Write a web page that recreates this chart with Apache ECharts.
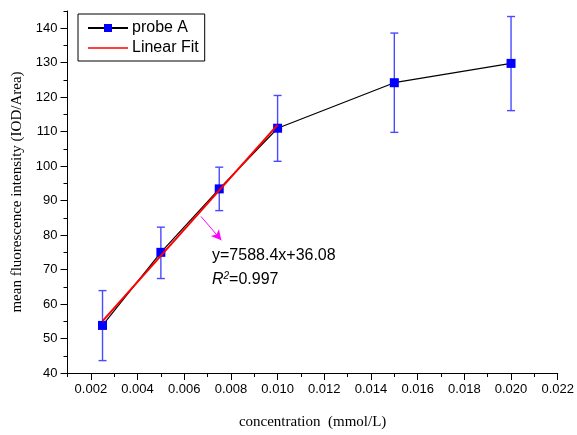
<!DOCTYPE html>
<html>
<head>
<meta charset="utf-8">
<script src="https://cdn.jsdelivr.net/npm/echarts@6/dist/echarts.min.js"></script>
<style>
  html, body { margin: 0; padding: 0; background: #fff; }
  #chart { width: 577px; height: 435px; }
</style>
</head>
<body>
<div id="chart"></div>
<script>
// Measured probe response
const concentration = [0.0025, 0.005, 0.0075, 0.010, 0.015, 0.020];
const intensity     = [53.8, 75.0, 93.4, 111.0, 124.2, 129.8];
const errLow        = [43.6, 67.4, 87.1, 101.4, 109.8, 116.1];
const errHigh       = [63.9, 82.3, 99.7, 120.5, 138.6, 143.4];

// Linear fit over the linear range: y = 7588.4x + 36.08
const fitX = [0.0025, 0.010];
const fitY = [55.05, 111.96];

// Major tick positions / labels
const xTickLabels = ['0.002','0.004','0.006','0.008','0.010','0.012','0.014','0.016','0.018','0.020','0.022'];
const yTickLabels = [40, 50, 60, 70, 80, 90, 100, 110, 120, 130, 140];

const fitEquation = 'y=7588.4x+36.08';
const fitR2 = '0.997';

const X_MIN = 0.001, X_MAX = 0.022;
const Y_MIN = 40, Y_MAX = 145;

const chart = echarts.init(document.getElementById('chart'), null, { renderer: 'canvas' });

const sans = 'Arial, "Liberation Sans", sans-serif';
const serif = '"Times New Roman", "Liberation Serif", serif';

// thin horizontal bar centred in its box (legend icon for the fit line)
const fitIcon = 'path://M0,0M0,4.3H40V5.7H0Z M40,10';

const xMajor = xTickLabels.map(Number);

const option = {
  animation: false,
  backgroundColor: '#fff',
  grid: { left: 67.5, right: 18.5, top: 11, bottom: 59.5, containLabel: false },
  legend: {
    orient: 'vertical',
    left: 78,
    top: 14,
    padding: [5, 6, 4, 9],
    itemGap: 2,
    itemWidth: 40,
    itemHeight: 10,
    symbolKeepAspect: false,
    borderColor: '#000',
    borderWidth: 1,
    borderRadius: 0,
    backgroundColor: '#fff',
    textStyle: { fontFamily: sans, fontSize: 16, color: '#000', lineHeight: 18, padding: [0, 0, 0, -1] },
    data: [
      { name: 'probe A' },
      { name: 'Linear Fit', icon: fitIcon }
    ]
  },
  xAxis: [
    {
      type: 'value',
      position: 'bottom',
      min: X_MIN,
      max: X_MAX,
      name: 'concentration  (mmol/L)',
      nameLocation: 'middle',
      nameGap: 42,
      nameTextStyle: { fontFamily: serif, fontSize: 15, color: '#000' },
      axisLine: { show: true, lineStyle: { color: '#000', width: 1 } },
      axisTick: { show: true, inside: false, length: 7, customValues: xMajor, lineStyle: { color: '#000' } },
      splitLine: { show: false },
      axisLabel: {
        margin: 10,
        fontFamily: sans,
        fontSize: 13,
        color: '#000',
        customValues: xMajor,
        formatter: function (v) { return Number(v).toFixed(3); }
      }
    },
    {
      // minor ticks every 0.001
      type: 'value',
      position: 'bottom',
      min: X_MIN,
      max: X_MAX,
      interval: 0.001,
      axisLine: { show: false },
      axisTick: { show: true, inside: false, length: 4, lineStyle: { color: '#000' } },
      axisLabel: { show: false },
      splitLine: { show: false }
    }
  ],
  yAxis: [
    {
      type: 'value',
      position: 'left',
      min: Y_MIN,
      max: Y_MAX,
      name: 'mean fluorescence intensity (IOD/Area)',
      nameLocation: 'middle',
      nameGap: 34,
      nameTextStyle: { fontFamily: serif, fontSize: 15, color: '#000' },
      axisLine: { show: true, lineStyle: { color: '#000', width: 1 } },
      axisTick: { show: true, inside: false, length: 7, customValues: yTickLabels, lineStyle: { color: '#000' } },
      splitLine: { show: false },
      axisLabel: {
        margin: 10,
        fontFamily: sans,
        fontSize: 13,
        color: '#000',
        customValues: yTickLabels
      }
    },
    {
      // minor ticks every 5
      type: 'value',
      position: 'left',
      min: Y_MIN,
      max: Y_MAX,
      interval: 5,
      axisLine: { show: false },
      axisTick: { show: true, inside: false, length: 4, lineStyle: { color: '#000' } },
      axisLabel: { show: false },
      splitLine: { show: false }
    }
  ],
  series: [
    {
      name: 'errorbars',
      type: 'custom',
      silent: true,
      z: 1,
      data: concentration.map((x, i) => [x, errLow[i], errHigh[i]]),
      encode: { x: 0, y: [1, 2] },
      renderItem: function (params, api) {
        const lo = api.coord([api.value(0), api.value(1)]);
        const hi = api.coord([api.value(0), api.value(2)]);
        const half = 4;
        const style = { stroke: '#4a4aff', lineWidth: 1.4 };
        return {
          type: 'group',
          children: [
            { type: 'line', shape: { x1: hi[0], y1: hi[1], x2: lo[0], y2: lo[1] }, style: style },
            { type: 'line', shape: { x1: hi[0] - half, y1: hi[1], x2: hi[0] + half, y2: hi[1] }, style: style },
            { type: 'line', shape: { x1: lo[0] - half, y1: lo[1], x2: lo[0] + half, y2: lo[1] }, style: style }
          ]
        };
      }
    },
    {
      name: 'probe A',
      type: 'line',
      z: 3,
      data: concentration.map((x, i) => [x, intensity[i]]),
      symbol: 'rect',
      symbolSize: 9,
      showSymbol: true,
      lineStyle: { color: '#000', width: 1.2 },
      itemStyle: { color: '#0000ff', borderWidth: 0 },
      emphasis: { disabled: true }
    },
    {
      name: 'Linear Fit',
      type: 'line',
      z: 4,
      data: fitX.map((x, i) => [x, fitY[i]]),
      symbol: 'none',
      lineStyle: { color: '#ff0000', width: 2 },
      itemStyle: { color: '#ff0000' },
      emphasis: { disabled: true },
      markLine: {
        silent: true,
        symbol: ['none', 'arrow'],
        symbolSize: [8, 10],
        label: { show: false },
        lineStyle: { color: '#ff00ff', width: 1, type: 'solid' },
        data: [[{ coord: [0.00672, 85.4] }, { coord: [0.00759, 78.5] }]]
      }
    }
  ],
  graphic: [
    {
      type: 'text',
      left: 212,
      top: 248,
      style: {
        text: fitEquation,
        font: '16px ' + sans,
        fill: '#000'
      }
    },
    {
      type: 'text',
      left: 212,
      top: 271,
      style: {
        text: '{i|R}{s|2}{n|=' + fitR2 + '}',
        rich: {
          i: { fontFamily: sans, fontSize: 16, fontStyle: 'italic', color: '#000' },
          s: { fontFamily: sans, fontSize: 10, fontStyle: 'italic', color: '#000', verticalAlign: 'top', padding: [0, 0, 8, 0] },
          n: { fontFamily: sans, fontSize: 16, color: '#000' }
        }
      }
    }
  ]
};

chart.setOption(option);
</script>
</body>
</html>
